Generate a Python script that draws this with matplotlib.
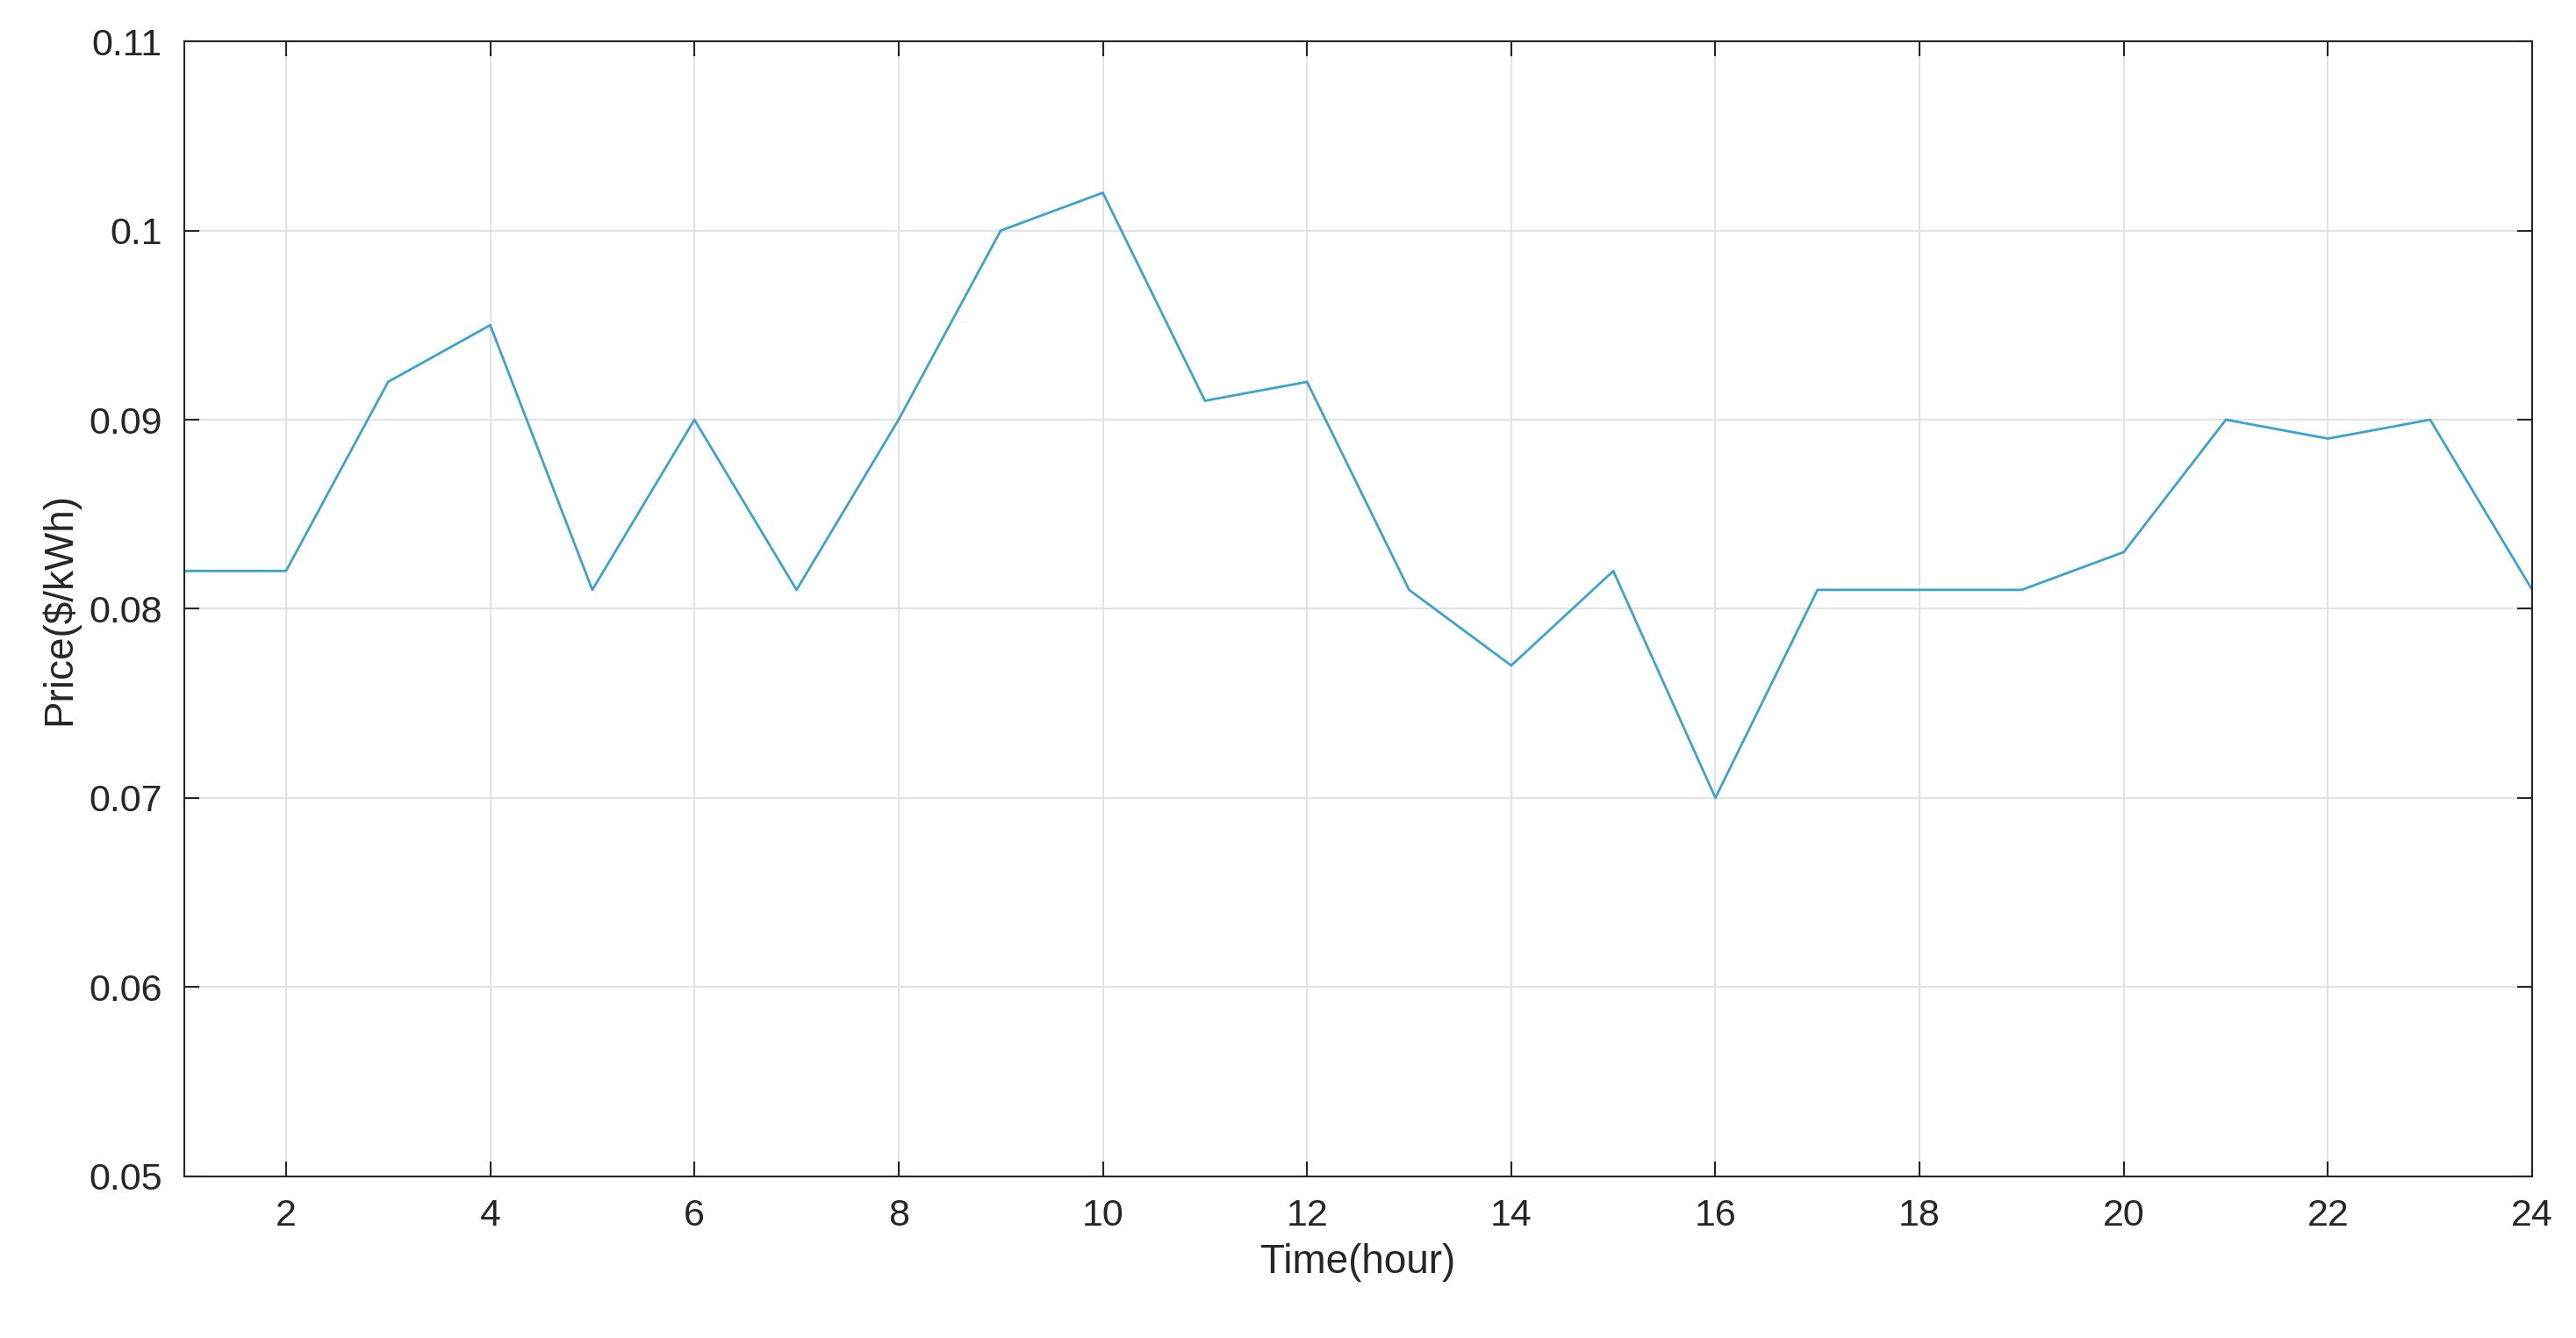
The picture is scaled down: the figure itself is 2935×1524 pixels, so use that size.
import matplotlib.pyplot as plt

plt.rcParams["font.family"] = ["Liberation Sans", "DejaVu Sans"]

hours = list(range(1, 25))
price = [0.082, 0.082, 0.092, 0.095, 0.081, 0.090, 0.081, 0.090, 0.100, 0.102,
         0.091, 0.092, 0.081, 0.077, 0.082, 0.070, 0.081, 0.081, 0.081, 0.083,
         0.090, 0.089, 0.090, 0.081]
xticks = list(range(2, 25, 2))
yticks = [0.05, 0.06, 0.07, 0.08, 0.09, 0.1, 0.11]
ytick_labels = ["0.05", "0.06", "0.07", "0.08", "0.09", "0.1", "0.11"]

fig = plt.figure(figsize=(29.35, 15.24), dpi=100)
ax = fig.add_axes([0.0714, 0.121, 0.9116, 0.848])
ax.plot(hours, price, color="#3aa3d0", linewidth=2)

ax.set_xlim(1, 24)
ax.set_ylim(0.05, 0.11)
ax.set_xticks(xticks)
ax.set_yticks(yticks)
ax.set_yticklabels(ytick_labels)
ax.grid(True, color="#e3e3e3", linewidth=1.5)
ax.tick_params(direction="in", length=12, width=1.5, labelsize=31,
               top=True, right=True, colors="#262626", pad=18)
for s in ax.spines.values():
    s.set_linewidth(1.5)
    s.set_color("#262626")
ax.set_xlabel("Time(hour)", fontsize=33, color="#262626", labelpad=8)
ax.set_ylabel("Price($/kWh)", fontsize=33, color="#262626", labelpad=8)

fig.savefig("out.png", dpi=100)
